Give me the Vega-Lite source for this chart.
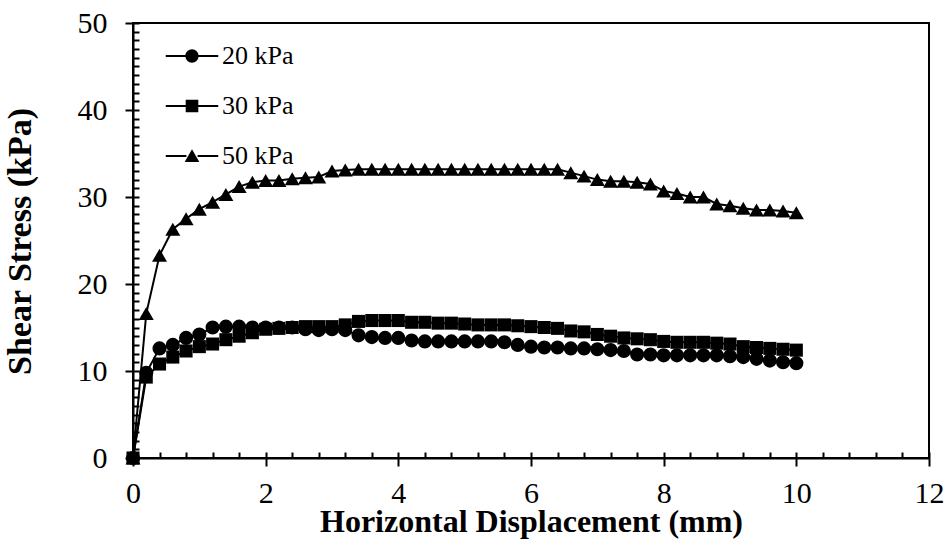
{
  "$schema": "https://vega.github.io/schema/vega-lite/v6.json",
  "width": 796,
  "height": 435,
  "autosize": "none",
  "padding": {"left": 133, "top": 23, "right": 21, "bottom": 87},
  "background": "white",
  "config": {
    "view": {"stroke": "black", "strokeWidth": 2},
    "font": "Liberation Serif",
    "axis": {
      "grid": false,
      "domainColor": "black",
      "domainWidth": 2,
      "tickColor": "black",
      "tickWidth": 2,
      "labelColor": "black",
      "labelFont": "Liberation Serif",
      "labelFontSize": 30,
      "titleColor": "black",
      "titleFont": "Liberation Serif",
      "titleFontWeight": "bold"
    },
    "legend": {
      "labelFont": "Liberation Serif",
      "labelFontSize": 26,
      "labelColor": "black"
    }
  },
  "data": {
    "values": [
      {"x": 0, "stress": 0, "load": "20 kPa"},
      {"x": 0.2, "stress": 9.8, "load": "20 kPa"},
      {"x": 0.4, "stress": 12.6, "load": "20 kPa"},
      {"x": 0.6, "stress": 13.0, "load": "20 kPa"},
      {"x": 0.8, "stress": 13.8, "load": "20 kPa"},
      {"x": 1.0, "stress": 14.2, "load": "20 kPa"},
      {"x": 1.2, "stress": 15.0, "load": "20 kPa"},
      {"x": 1.4, "stress": 15.1, "load": "20 kPa"},
      {"x": 1.6, "stress": 15.1, "load": "20 kPa"},
      {"x": 1.8, "stress": 15.0, "load": "20 kPa"},
      {"x": 2.0, "stress": 15.0, "load": "20 kPa"},
      {"x": 2.2, "stress": 15.0, "load": "20 kPa"},
      {"x": 2.4, "stress": 15.0, "load": "20 kPa"},
      {"x": 2.6, "stress": 14.8, "load": "20 kPa"},
      {"x": 2.8, "stress": 14.7, "load": "20 kPa"},
      {"x": 3.0, "stress": 14.8, "load": "20 kPa"},
      {"x": 3.2, "stress": 14.7, "load": "20 kPa"},
      {"x": 3.4, "stress": 14.1, "load": "20 kPa"},
      {"x": 3.6, "stress": 13.9, "load": "20 kPa"},
      {"x": 3.8, "stress": 13.8, "load": "20 kPa"},
      {"x": 4.0, "stress": 13.8, "load": "20 kPa"},
      {"x": 4.2, "stress": 13.5, "load": "20 kPa"},
      {"x": 4.4, "stress": 13.4, "load": "20 kPa"},
      {"x": 4.6, "stress": 13.4, "load": "20 kPa"},
      {"x": 4.8, "stress": 13.4, "load": "20 kPa"},
      {"x": 5.0, "stress": 13.4, "load": "20 kPa"},
      {"x": 5.2, "stress": 13.4, "load": "20 kPa"},
      {"x": 5.4, "stress": 13.4, "load": "20 kPa"},
      {"x": 5.6, "stress": 13.3, "load": "20 kPa"},
      {"x": 5.8, "stress": 13.0, "load": "20 kPa"},
      {"x": 6.0, "stress": 12.8, "load": "20 kPa"},
      {"x": 6.2, "stress": 12.7, "load": "20 kPa"},
      {"x": 6.4, "stress": 12.7, "load": "20 kPa"},
      {"x": 6.6, "stress": 12.6, "load": "20 kPa"},
      {"x": 6.8, "stress": 12.6, "load": "20 kPa"},
      {"x": 7.0, "stress": 12.5, "load": "20 kPa"},
      {"x": 7.2, "stress": 12.4, "load": "20 kPa"},
      {"x": 7.4, "stress": 12.3, "load": "20 kPa"},
      {"x": 7.6, "stress": 11.9, "load": "20 kPa"},
      {"x": 7.8, "stress": 11.9, "load": "20 kPa"},
      {"x": 8.0, "stress": 11.8, "load": "20 kPa"},
      {"x": 8.2, "stress": 11.8, "load": "20 kPa"},
      {"x": 8.4, "stress": 11.8, "load": "20 kPa"},
      {"x": 8.6, "stress": 11.8, "load": "20 kPa"},
      {"x": 8.8, "stress": 11.8, "load": "20 kPa"},
      {"x": 9.0, "stress": 11.7, "load": "20 kPa"},
      {"x": 9.2, "stress": 11.6, "load": "20 kPa"},
      {"x": 9.4, "stress": 11.4, "load": "20 kPa"},
      {"x": 9.6, "stress": 11.2, "load": "20 kPa"},
      {"x": 9.8, "stress": 11.0, "load": "20 kPa"},
      {"x": 10.0, "stress": 10.9, "load": "20 kPa"},
      {"x": 0, "stress": 0, "load": "30 kPa"},
      {"x": 0.2, "stress": 9.3, "load": "30 kPa"},
      {"x": 0.4, "stress": 10.8, "load": "30 kPa"},
      {"x": 0.6, "stress": 11.6, "load": "30 kPa"},
      {"x": 0.8, "stress": 12.3, "load": "30 kPa"},
      {"x": 1.0, "stress": 12.8, "load": "30 kPa"},
      {"x": 1.2, "stress": 13.1, "load": "30 kPa"},
      {"x": 1.4, "stress": 13.6, "load": "30 kPa"},
      {"x": 1.6, "stress": 14.0, "load": "30 kPa"},
      {"x": 1.8, "stress": 14.4, "load": "30 kPa"},
      {"x": 2.0, "stress": 14.8, "load": "30 kPa"},
      {"x": 2.2, "stress": 14.9, "load": "30 kPa"},
      {"x": 2.4, "stress": 15.0, "load": "30 kPa"},
      {"x": 2.6, "stress": 15.1, "load": "30 kPa"},
      {"x": 2.8, "stress": 15.1, "load": "30 kPa"},
      {"x": 3.0, "stress": 15.1, "load": "30 kPa"},
      {"x": 3.2, "stress": 15.3, "load": "30 kPa"},
      {"x": 3.4, "stress": 15.7, "load": "30 kPa"},
      {"x": 3.6, "stress": 15.8, "load": "30 kPa"},
      {"x": 3.8, "stress": 15.8, "load": "30 kPa"},
      {"x": 4.0, "stress": 15.8, "load": "30 kPa"},
      {"x": 4.2, "stress": 15.6, "load": "30 kPa"},
      {"x": 4.4, "stress": 15.6, "load": "30 kPa"},
      {"x": 4.6, "stress": 15.5, "load": "30 kPa"},
      {"x": 4.8, "stress": 15.5, "load": "30 kPa"},
      {"x": 5.0, "stress": 15.4, "load": "30 kPa"},
      {"x": 5.2, "stress": 15.3, "load": "30 kPa"},
      {"x": 5.4, "stress": 15.3, "load": "30 kPa"},
      {"x": 5.6, "stress": 15.3, "load": "30 kPa"},
      {"x": 5.8, "stress": 15.2, "load": "30 kPa"},
      {"x": 6.0, "stress": 15.1, "load": "30 kPa"},
      {"x": 6.2, "stress": 15.0, "load": "30 kPa"},
      {"x": 6.4, "stress": 14.9, "load": "30 kPa"},
      {"x": 6.6, "stress": 14.6, "load": "30 kPa"},
      {"x": 6.8, "stress": 14.5, "load": "30 kPa"},
      {"x": 7.0, "stress": 14.2, "load": "30 kPa"},
      {"x": 7.2, "stress": 14.0, "load": "30 kPa"},
      {"x": 7.4, "stress": 13.8, "load": "30 kPa"},
      {"x": 7.6, "stress": 13.7, "load": "30 kPa"},
      {"x": 7.8, "stress": 13.6, "load": "30 kPa"},
      {"x": 8.0, "stress": 13.4, "load": "30 kPa"},
      {"x": 8.2, "stress": 13.3, "load": "30 kPa"},
      {"x": 8.4, "stress": 13.3, "load": "30 kPa"},
      {"x": 8.6, "stress": 13.3, "load": "30 kPa"},
      {"x": 8.8, "stress": 13.2, "load": "30 kPa"},
      {"x": 9.0, "stress": 13.1, "load": "30 kPa"},
      {"x": 9.2, "stress": 12.8, "load": "30 kPa"},
      {"x": 9.4, "stress": 12.7, "load": "30 kPa"},
      {"x": 9.6, "stress": 12.6, "load": "30 kPa"},
      {"x": 9.8, "stress": 12.5, "load": "30 kPa"},
      {"x": 10.0, "stress": 12.4, "load": "30 kPa"},
      {"x": 0, "stress": 0, "load": "50 kPa"},
      {"x": 0.2, "stress": 16.6, "load": "50 kPa"},
      {"x": 0.4, "stress": 23.3, "load": "50 kPa"},
      {"x": 0.6, "stress": 26.3, "load": "50 kPa"},
      {"x": 0.8, "stress": 27.5, "load": "50 kPa"},
      {"x": 1.0, "stress": 28.6, "load": "50 kPa"},
      {"x": 1.2, "stress": 29.4, "load": "50 kPa"},
      {"x": 1.4, "stress": 30.3, "load": "50 kPa"},
      {"x": 1.6, "stress": 31.2, "load": "50 kPa"},
      {"x": 1.8, "stress": 31.7, "load": "50 kPa"},
      {"x": 2.0, "stress": 31.9, "load": "50 kPa"},
      {"x": 2.2, "stress": 31.9, "load": "50 kPa"},
      {"x": 2.4, "stress": 32.1, "load": "50 kPa"},
      {"x": 2.6, "stress": 32.2, "load": "50 kPa"},
      {"x": 2.8, "stress": 32.3, "load": "50 kPa"},
      {"x": 3.0, "stress": 33.0, "load": "50 kPa"},
      {"x": 3.2, "stress": 33.1, "load": "50 kPa"},
      {"x": 3.4, "stress": 33.2, "load": "50 kPa"},
      {"x": 3.6, "stress": 33.2, "load": "50 kPa"},
      {"x": 3.8, "stress": 33.2, "load": "50 kPa"},
      {"x": 4.0, "stress": 33.2, "load": "50 kPa"},
      {"x": 4.2, "stress": 33.2, "load": "50 kPa"},
      {"x": 4.4, "stress": 33.2, "load": "50 kPa"},
      {"x": 4.6, "stress": 33.2, "load": "50 kPa"},
      {"x": 4.8, "stress": 33.2, "load": "50 kPa"},
      {"x": 5.0, "stress": 33.2, "load": "50 kPa"},
      {"x": 5.2, "stress": 33.2, "load": "50 kPa"},
      {"x": 5.4, "stress": 33.2, "load": "50 kPa"},
      {"x": 5.6, "stress": 33.2, "load": "50 kPa"},
      {"x": 5.8, "stress": 33.2, "load": "50 kPa"},
      {"x": 6.0, "stress": 33.2, "load": "50 kPa"},
      {"x": 6.2, "stress": 33.2, "load": "50 kPa"},
      {"x": 6.4, "stress": 33.2, "load": "50 kPa"},
      {"x": 6.6, "stress": 32.8, "load": "50 kPa"},
      {"x": 6.8, "stress": 32.4, "load": "50 kPa"},
      {"x": 7.0, "stress": 32.0, "load": "50 kPa"},
      {"x": 7.2, "stress": 31.8, "load": "50 kPa"},
      {"x": 7.4, "stress": 31.8, "load": "50 kPa"},
      {"x": 7.6, "stress": 31.7, "load": "50 kPa"},
      {"x": 7.8, "stress": 31.5, "load": "50 kPa"},
      {"x": 8.0, "stress": 30.7, "load": "50 kPa"},
      {"x": 8.2, "stress": 30.4, "load": "50 kPa"},
      {"x": 8.4, "stress": 30.0, "load": "50 kPa"},
      {"x": 8.6, "stress": 30.0, "load": "50 kPa"},
      {"x": 8.8, "stress": 29.2, "load": "50 kPa"},
      {"x": 9.0, "stress": 29.0, "load": "50 kPa"},
      {"x": 9.2, "stress": 28.7, "load": "50 kPa"},
      {"x": 9.4, "stress": 28.5, "load": "50 kPa"},
      {"x": 9.6, "stress": 28.5, "load": "50 kPa"},
      {"x": 9.8, "stress": 28.4, "load": "50 kPa"},
      {"x": 10.0, "stress": 28.2, "load": "50 kPa"}
    ]
  },
  "layer": [
    {
      "mark": {"type": "line", "color": "black", "strokeWidth": 2},
      "encoding": {
        "x": {
          "field": "x", "type": "quantitative",
          "scale": {"domain": [0, 12], "nice": false},
          "axis": {
            "orient": "bottom",
            "title": "Horizontal Displacement (mm)",
            "values": [0, 2, 4, 6, 8, 10, 12],
            "tickSize": 8,
            "labelPadding": 12,
            "labelFlush": false,
            "labelBound": false,
            "titleFontSize": 32,
            "titleBaseline": "alphabetic",
            "titleY": 73
          }
        },
        "y": {
          "field": "stress", "type": "quantitative",
          "scale": {"domain": [0, 50], "nice": false},
          "axis": {
            "orient": "left",
            "title": "Shear Stress (kPa)",
            "values": [0, 10, 20, 30, 40, 50],
            "tickSize": 8,
            "labelPadding": 18,
            "labelBaseline": "middle",
            "labelFlush": false,
            "titleFontSize": 34,
            "titleAngle": -90,
            "titleBaseline": "alphabetic",
            "titleAlign": "center",
            "titleX": -103,
            "titleY": 218
          }
        },
        "detail": {"field": "load", "type": "nominal"}
      }
    },
    {
      "mark": {"type": "point", "filled": true, "color": "black", "opacity": 1, "size": 200},
      "transform": [{"filter": "datum.load === '20 kPa'"}],
      "encoding": {
        "x": {
          "field": "x", "type": "quantitative",
          "axis": {
            "orient": "bottom",
            "offset": -6,
            "tickSize": 6,
            "tickColor": "black",
            "tickWidth": 2,
            "labels": false,
            "domain": false,
            "title": null,
            "zindex": 1,
            "values": [0, 0.4, 0.8, 1.2, 1.6, 2, 2.4, 2.8, 3.2, 3.6, 4, 4.4, 4.8, 5.2, 5.6, 6, 6.4, 6.8, 7.2, 7.6, 8, 8.4, 8.8, 9.2, 9.6, 10, 10.4, 10.8, 11.2, 11.6, 12]
          }
        },
        "y": {
          "field": "stress", "type": "quantitative",
          "axis": {
            "orient": "left",
            "offset": -6,
            "tickSize": 6,
            "tickColor": "black",
            "tickWidth": 2,
            "labels": false,
            "domain": false,
            "title": null,
            "zindex": 1,
            "values": [0, 1, 2, 3, 4, 5, 6, 7, 8, 9, 10, 11, 12, 13, 14, 15, 16, 17, 18, 19, 20, 21, 22, 23, 24, 25, 26, 27, 28, 29, 30, 31, 32, 33, 34, 35, 36, 37, 38, 39, 40, 41, 42, 43, 44, 45, 46, 47, 48, 49, 50]
          }
        }
      }
    },
    {
      "transform": [{"filter": "datum.load === '30 kPa'"}],
      "mark": {"type": "point", "shape": "square", "filled": true, "color": "black", "opacity": 1, "size": 170},
      "encoding": {
        "x": {"field": "x", "type": "quantitative", "axis": null},
        "y": {"field": "stress", "type": "quantitative", "axis": null}
      }
    },
    {
      "transform": [{"filter": "datum.load === '50 kPa'"}],
      "mark": {"type": "point", "shape": "triangle-up", "filled": true, "color": "black", "opacity": 1, "size": 225},
      "encoding": {
        "x": {"field": "x", "type": "quantitative", "axis": null},
        "y": {"field": "stress", "type": "quantitative", "axis": null}
      }
    },
    {
      "transform": [{"filter": "false"}],
      "mark": {"type": "point", "filled": true, "color": "black", "opacity": 1},
      "encoding": {
        "x": {"field": "x", "type": "quantitative", "axis": null},
        "y": {"field": "stress", "type": "quantitative", "axis": null},
        "shape": {
          "field": "load", "type": "nominal",
          "scale": {
            "domain": ["20 kPa", "30 kPa", "50 kPa"],
            "range": [
              "M-3.75,-0.14H-0.8V0.14H-3.75Z M0.8,-0.14H3.75V0.14H0.8Z M-0.95,0A0.95,0.95,0,1,1,0.95,0A0.95,0.95,0,1,1,-0.95,0Z",
              "M-3.75,-0.14H-0.8V0.14H-3.75Z M0.8,-0.14H3.75V0.14H0.8Z M-0.9,-0.9H0.9V0.9H-0.9Z",
              "M-3.75,-0.14H-0.8V0.14H-3.75Z M0.8,-0.14H3.75V0.14H0.8Z M0,-0.95L1.05,0.85L-1.05,0.85Z"
            ]
          },
          "legend": {
            "title": null,
            "orient": "none",
            "legendX": 46,
            "legendY": 20,
            "symbolSize": 196,
            "symbolFillColor": "black",
            "symbolOpacity": 1,
            "labelOffset": 17,
            "rowPadding": 24
          }
        }
      }
    }
  ],
  "resolve": {
    "axis": {"x": "independent", "y": "independent"}
  }
}
